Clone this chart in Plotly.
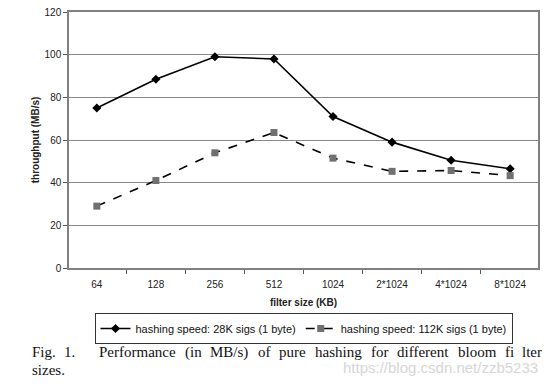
import plotly.graph_objects as go

categories = ["64", "128", "256", "512", "1024", "2*1024", "4*1024", "8*1024"]
speed_28k = [75, 88.5, 99, 98, 71, 59, 50.5, 46.5]
speed_112k = [29, 41, 54, 63.5, 51.5, 45.3, 45.7, 43.3]
series_names = ["hashing speed: 28K sigs (1 byte)", "hashing speed: 112K sigs (1 byte)"]

# page has an 8px body margin; figure is sized so that it fills the 550x384 window
OFF = 8
W, H = 550 - OFF, 384 - OFF
ML, MR, MT, MB = 61, 12, 4, 116
PW = W - ML - MR
PH = H - MT - MB

def px(x):
    return (x - OFF - ML) / PW

def py(y):
    return (H - MB - (y - OFF)) / PH

fig = go.Figure()
fig.add_trace(go.Scatter(
    x=categories, y=speed_28k, name=series_names[0], mode="lines+markers",
    line=dict(color="black", width=1.6),
    marker=dict(symbol="diamond", size=7, color="black"),
))
fig.add_trace(go.Scatter(
    x=categories, y=speed_112k, name=series_names[1], mode="lines+markers",
    line=dict(color="black", width=1.6, dash="dash"),
    marker=dict(symbol="square", size=7, color="#707070"),
))

serif = "Liberation Serif, Times New Roman, serif"
caption = [
    ("Fig.", 30, 352), ("1.", 62, 352), ("Performance", 97, 352), ("(in", 182.6, 352),
    ("MB/s)", 208.3, 352), ("of", 255.6, 352), ("pure", 277.1, 352), ("hashing", 312.8, 352),
    ("for", 368.5, 352), ("different", 395, 352), ("bloom", 455.6, 352), ("fi", 502.9, 352),
    ("lter", 519.5, 352), ("sizes.", 30, 370),
]
annotations = []
for word, x, y in caption:
    annotations.append(dict(
        text=word, x=px(x), y=py(y), xref="paper", yref="paper",
        xanchor="left", yanchor="middle", showarrow=False,
        font=dict(family=serif, size=15, color="#111"),
    ))
annotations.append(dict(
    text="https://blog.csdn.net/zzb5233", x=px(540), y=py(367), xref="paper", yref="paper",
    xanchor="right", yanchor="middle", showarrow=False,
    font=dict(family="Liberation Sans, Arial, sans-serif", size=15, color="#d6d6d6"),
))

fig.update_layout(
    width=W, height=H,
    margin=dict(l=ML, r=MR, t=MT, b=MB, autoexpand=False),
    paper_bgcolor="white", plot_bgcolor="white",
    font=dict(family="Liberation Sans, Arial, sans-serif", size=10, color="#222"),
    showlegend=True,
    legend=dict(
        orientation="h", x=0.5, xanchor="center", y=py(313), yanchor="top",
        bordercolor="#333", borderwidth=1, bgcolor="white",
        font=dict(size=11, color="#111"), itemwidth=30, tracegroupgap=0,
    ),
    xaxis=dict(
        type="category", tickson="boundaries", ticks="outside", ticklen=4,
        tickcolor="#555", showline=True, linecolor="#808080", linewidth=1.5, mirror=True,
        showgrid=False, zeroline=False, tickfont=dict(size=10), automargin=False,
        ticklabelstandoff=6,
        title=dict(text="<b>filter size (KB)</b>", font=dict(size=10), standoff=10),
    ),
    yaxis=dict(
        range=[0, 120], dtick=20, ticks="outside", ticklen=4, tickcolor="#555",
        showline=True, linecolor="#808080", linewidth=1.5, mirror=True,
        showgrid=True, gridcolor="#8a8a8a", gridwidth=1, zeroline=False,
        tickfont=dict(size=10), automargin=False, ticklabeloverflow="allow",
        title=dict(text="<b>throughput (MB/s)</b>", font=dict(size=10), standoff=3),
    ),
    annotations=annotations,
)

fig.write_html("out.html")
